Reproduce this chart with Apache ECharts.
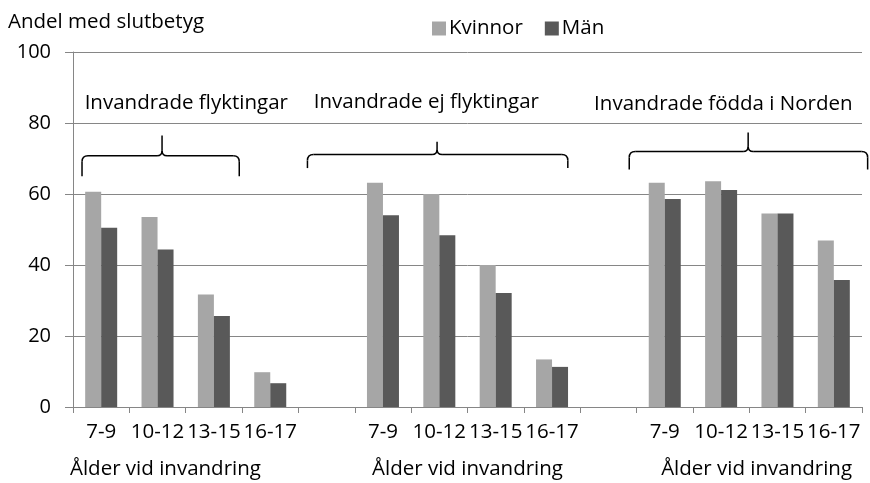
<!DOCTYPE html>
<html>
<head>
<meta charset="utf-8">
<script src="https://cdn.jsdelivr.net/npm/echarts@6/dist/echarts.min.js"></script>
<style>html,body{margin:0;padding:0;background:#fff}#c{width:870px;height:483px}</style>
</head>
<body>
<div id="c"></div>
<script>
const categories = ['7-9','10-12','13-15','16-17','','7-9','10-12','13-15','16-17','','7-9','10-12','13-15','16-17'];
const kvinnor = [60.6, 53.5, 31.7, 9.8, null, 63.2, 60.0, 40.0, 13.4, null, 63.2, 63.6, 54.5, 46.9];
const man     = [50.5, 44.4, 25.6, 6.7, null, 54.0, 48.4, 32.1, 11.3, null, 58.6, 61.1, 54.5, 35.8];
const yTicks = [0, 20, 40, 60, 80, 100];
const groupLabels = ['Invandrade flyktingar', 'Invandrade ej flyktingar', 'Invandrade födda i Norden'];
const axisTitle = 'Ålder vid invandring';
const yTitle = 'Andel med slutbetyg';

const FONT = 'Open Sans';
const FS = 20.5;
const chart = echarts.init(document.getElementById('c'), null, {renderer: 'canvas'});
const option = {
  animation: false,
  backgroundColor: '#fff',
  textStyle: {fontFamily: FONT, color: '#000'},
  title: {
    text: yTitle, left: 3, top: 7,
    textStyle: {fontFamily: FONT, fontSize: FS, fontWeight: 'normal', color: '#000'}
  },
  legend: {
    left: 427, top: 13, itemWidth: 14, itemHeight: 14, itemGap: 22,
    icon: 'rect',
    textStyle: {fontFamily: FONT, fontSize: FS, color: '#000', padding: [0,0,0,-2]},
    data: ['Kvinnor', 'Män']
  },
  grid: {left: 73, right: 8, top: 52, bottom: 76, containLabel: false},
  xAxis: {
    type: 'category', data: categories,
    axisLine: {lineStyle: {color: '#868686', width: 1}},
    axisTick: {show: true, length: 6, interval: 0, lineStyle: {color: '#868686'}},
    axisLabel: {interval: 0, margin: 15, fontFamily: FONT, fontSize: FS, color: '#000'}
  },
  yAxis: {
    type: 'value', min: 0, max: 100, interval: 20,
    axisLine: {show: true, lineStyle: {color: '#868686', width: 1}},
    axisTick: {show: true, length: 8, lineStyle: {color: '#868686'}},
    splitLine: {lineStyle: {color: '#868686', width: 1}},
    axisLabel: {margin: 22, fontFamily: FONT, fontSize: 20, color: '#000',
      formatter: v => yTicks.includes(v) ? String(v) : ''}
  },
  series: [
    {name: 'Kvinnor', type: 'bar', data: kvinnor, barWidth: 16, barGap: '0%',
     itemStyle: {color: '#a6a6a6'}},
    {name: 'Män', type: 'bar', data: man, barWidth: 16, barGap: '0%',
     itemStyle: {color: '#595959'}}
  ]
};
chart.setOption(option);

// Annotation helpers: positions in data space (fractional category index, value)
const x0 = chart.convertToPixel({xAxisIndex: 0}, 0);
const x1 = chart.convertToPixel({xAxisIndex: 0}, 1);
const px = i => x0 + (x1 - x0) * i;
const py = v => chart.convertToPixel({yAxisIndex: 0}, v);

// brackets: [startIdx, peakIdx, endIdx, yH, yEnd, yPeak]
const brackets = [
  [-0.34, 1.08, 2.45, 70.8, 65.0, 76.5],
  [3.66, 5.96, 8.28, 71.1, 67.3, 74.7],
  [9.37, 11.48, 13.6, 72.0, 66.9, 77.3]
];
const groupPos = [[1.51, 85.6], [5.77, 85.8], [11.04, 85.2]];
const titlePos = [1.14, 6.5, 11.63];

const graphics = [];
const stroke = {stroke: '#000', lineWidth: 1.5, fill: null};
brackets.forEach(b => {
  const xs = px(b[0]), xm = px(b[1]), xe = px(b[2]);
  const yH = py(b[3]), yE = py(b[4]), yP = py(b[5]);
  const r = 6, rm = 5;
  const add = (t, shape) => graphics.push({type: t, shape, style: stroke, silent: true});
  add('line', {x1: xs, y1: yE, x2: xs, y2: yH + r});
  add('bezierCurve', {x1: xs, y1: yH + r, cpx1: xs, cpy1: yH, x2: xs + r, y2: yH});
  add('line', {x1: xs + r, y1: yH, x2: xm - rm, y2: yH});
  add('bezierCurve', {x1: xm - rm, y1: yH, cpx1: xm, cpy1: yH, x2: xm, y2: yH - rm});
  add('line', {x1: xm, y1: yH - rm, x2: xm, y2: yP});
  add('bezierCurve', {x1: xm, y1: yH - rm, cpx1: xm, cpy1: yH, x2: xm + rm, y2: yH});
  add('line', {x1: xm + rm, y1: yH, x2: xe - r, y2: yH});
  add('bezierCurve', {x1: xe - r, y1: yH, cpx1: xe, cpy1: yH, x2: xe, y2: yH + r});
  add('line', {x1: xe, y1: yH + r, x2: xe, y2: yE});
});
groupLabels.forEach((t, k) => {
  graphics.push({type: 'text', x: px(groupPos[k][0]), y: py(groupPos[k][1]), silent: true,
    style: {text: t, fontFamily: FONT, fontSize: FS, fill: '#000', align: 'center', verticalAlign: 'middle'}});
});
titlePos.forEach(i => {
  graphics.push({type: 'text', x: px(i), y: py(0) + 62, silent: true,
    style: {text: axisTitle, fontFamily: FONT, fontSize: FS, fill: '#000', align: 'center', verticalAlign: 'middle'}});
});
chart.setOption({graphic: {elements: graphics}});
</script>
</body>
</html>
